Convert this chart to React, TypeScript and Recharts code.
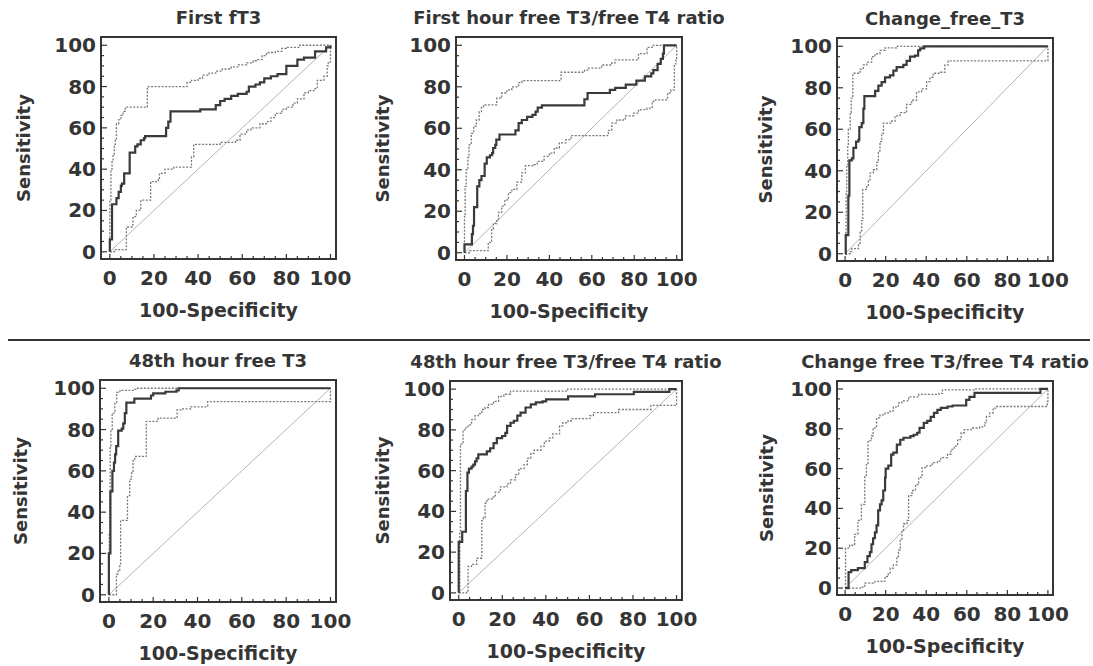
import React from 'react'
import { LineChart, Line, XAxis, YAxis } from 'recharts'

// ROC curves: [100-specificity, sensitivity]
const diagonal = [[0, 0], [100, 100]]

const roc1 = [[0, 0], [0, 6], [1, 6], [1, 23], [3, 23], [3, 26], [4, 29], [5, 32], [5.5, 33], [6.5, 38], [9, 38], [9, 48], [11.5, 48], [11.5, 51], [12.5, 52], [14, 54], [15.5, 55], [16, 56], [25.5, 56], [25.5, 60], [26.5, 63], [27.5, 68], [40, 68], [41, 69], [47, 69], [48, 71], [50, 73], [52, 74], [55, 75.5], [58, 76.5], [62, 77.5], [63, 80], [66, 81], [68, 82], [70, 84], [73, 85], [76, 86], [80, 86], [80, 90], [84, 90], [85, 93], [88, 93], [88, 94], [92, 94], [93, 97], [98, 99], [100, 99], [100, 100]]
const upper1 = [[0, 0], [0, 25], [0.5, 40], [1, 44], [1.5, 47], [2, 52], [2.5, 54], [3, 62], [4, 64], [5, 66], [6, 68], [7, 70], [17, 70], [17, 80], [34, 80], [35, 82], [37, 83], [40, 84], [42, 85.5], [45, 86.5], [48, 87.5], [51, 88.5], [55, 89.5], [58, 90.5], [62, 91.5], [65, 92.5], [67, 93], [69, 95], [71, 96.5], [75, 97], [78, 98.5], [80, 99], [86, 100], [100, 100]]
const lower1 = [[0, 0], [2, 0], [2, 1], [7.5, 2], [7.5, 12], [10, 13], [10.5, 17], [12, 20], [14, 25], [18.5, 25], [18.5, 34], [22, 35], [22.5, 38], [25, 40], [29, 41], [37, 41], [37, 46], [38, 52], [50, 53], [57, 54], [59, 57], [62, 59], [64, 60], [68, 62], [71, 63], [73, 65], [75, 67], [78, 69], [80, 70], [83, 72], [85, 74], [88, 77], [90, 78], [93, 79], [94, 83], [97, 85], [98.5, 90], [99, 92], [100, 100]]

const roc2 = [[0, 0], [0, 4], [3, 4], [3.5, 9], [4, 13], [4.5, 22], [6, 32], [7, 35], [8, 37], [9, 37], [9.5, 43], [10.5, 46], [12, 47], [13, 48], [13.5, 50.5], [14.5, 52], [15, 54.5], [16.5, 57], [23, 57], [24, 59], [25.5, 62.5], [27, 64], [29.5, 65.5], [32, 66.5], [33.5, 68], [34.5, 70], [36.5, 71], [56, 71], [56.5, 74], [58, 77], [68, 77], [68.5, 78.5], [71, 79.5], [76, 81], [80, 81], [81, 83], [85, 85], [88, 86.5], [89, 88], [91, 91], [92.5, 93.5], [93.5, 96], [94, 100], [100, 100]]
const upper2 = [[0, 0], [0, 18], [0.3, 32], [0.8, 40], [1.6, 46], [2.1, 52], [3.2, 57.5], [4.3, 61], [5.6, 64], [6.9, 68], [8, 70.5], [9, 71.3], [13.6, 71.3], [15.2, 74.5], [17.5, 77], [20, 78.5], [22.3, 80], [25.5, 82], [27.1, 83], [44, 83], [45.5, 87], [56.6, 88], [58.2, 89], [64.6, 90.5], [69.4, 91.5], [71, 93], [79.7, 93], [82, 96], [86, 99], [88.5, 100], [100, 100]]
const lower2 = [[0, 0], [2.4, 1], [11, 1], [11.2, 5], [12.8, 11.5], [13.6, 14], [15.2, 15.5], [16, 19.5], [17.5, 22.5], [19, 25.5], [20.7, 29], [22.3, 30.5], [24.7, 34], [27, 38.5], [28.7, 42], [32.7, 42.5], [34.3, 44], [37.5, 46.5], [40, 48], [42.3, 50.5], [44.7, 53], [47.8, 54.5], [50.2, 56.5], [66, 56.5], [67.8, 59], [69.4, 62.5], [71.8, 64], [75.8, 66], [79.7, 67.3], [82, 69], [86, 69.7], [88.5, 73], [90, 73.7], [95, 73.7], [95.7, 77], [97.3, 78.5], [98.9, 91], [99.7, 93], [100, 100]]

const roc3 = [[0, 0], [0.3, 9], [1.6, 9], [1.6, 28], [2.1, 45], [3.3, 46], [4.1, 51], [5.4, 54], [6.6, 55], [7, 61], [8.2, 63], [9, 70], [9.5, 76], [13.1, 76], [14.8, 78.5], [16.4, 81], [18, 82.7], [19.7, 85], [22.1, 86], [23.8, 88.3], [25.4, 90], [28.7, 91], [30.3, 93], [32, 95], [34.4, 95.5], [36, 98], [37, 99], [39, 100], [100, 100]]
const upper3 = [[0, 0], [0.3, 10], [0.5, 29], [0.8, 42], [1.3, 52], [1.6, 60], [2.5, 68], [3, 75], [3.8, 87], [6.6, 87], [7.4, 89], [9, 91], [10.7, 92.4], [13.1, 95], [14.8, 96.4], [17.2, 98], [19.7, 99.2], [25.4, 100], [100, 100]]
const lower3 = [[0, 0], [2.5, 1], [3.3, 2.5], [5.7, 2.5], [6.6, 5], [7.4, 11], [8.2, 16], [8.7, 31], [10.7, 32.5], [11.5, 35], [12.3, 39], [13.9, 40.5], [15.6, 44], [16.4, 49.5], [17.2, 54], [18, 58], [18.9, 63], [23, 64], [24.6, 66.5], [27, 68], [30.3, 72], [32.8, 74], [35.2, 78], [37.7, 79.5], [40.2, 83], [41.8, 85], [43.4, 87], [46.7, 87.5], [49.2, 91], [50.8, 93], [100, 93], [100, 100]]

const roc4 = [[0, 0], [0, 20], [0.7, 21], [0.7, 50], [1.6, 50], [1.6, 60], [2.3, 64], [2.8, 68], [3.3, 72], [4.2, 79.5], [5.8, 80.5], [6.5, 83], [7.2, 88], [7.9, 93], [10.8, 93], [11.5, 95], [15.5, 95], [19, 96.5], [20, 97.5], [25.5, 98.3], [30.5, 99], [31.5, 100], [100, 100]]
const upper4 = [[0, 0], [0.2, 30], [0.4, 50], [0.6, 72], [0.9, 80], [1.5, 88], [2.7, 93], [3.5, 98], [5, 99], [11, 99.5], [12.5, 100], [100, 100]]
const lower4 = [[0, 0], [3.4, 1], [3.4, 10], [4.2, 12], [4.9, 14], [5.3, 36], [8, 36], [8.4, 48], [9.4, 56], [10.2, 59], [10.9, 65], [11.7, 67], [16.2, 67], [16.9, 84], [21.4, 84], [22.2, 85.5], [29.6, 85.5], [30.8, 89.5], [32.6, 90], [37, 91], [43, 91], [44.6, 93.5], [100, 93.5], [100, 100]]

const roc5 = [[0, 0], [0, 25], [1.2, 25], [1.6, 30], [3.1, 30], [3.3, 50], [4, 59], [4.7, 61], [5.9, 62], [6.7, 63], [7.5, 64.5], [8.2, 66], [9, 68], [11.8, 68], [12.9, 69.5], [14.4, 71], [16, 73.5], [17.5, 76], [19.9, 77], [21.4, 78.5], [22.2, 82], [23.8, 83.5], [25.3, 84.5], [26.9, 87], [28.4, 88.5], [30.7, 91], [33.1, 92.5], [35.4, 93.5], [38.5, 94], [40.1, 95], [50.2, 96.5], [62.6, 97.5], [80.4, 98.7], [96, 98.7], [96.7, 100], [100, 100]]
const upper5 = [[0, 0], [0.5, 30], [0.8, 73], [2, 80], [2.8, 81], [4.3, 82.5], [5.9, 85], [7.5, 87], [9, 88], [10.6, 90], [12.1, 91], [13.7, 92.5], [16, 94], [18.3, 96.5], [20.7, 97.5], [23.8, 99], [50, 100], [100, 100]]
const lower5 = [[0, 0], [3.6, 1], [4.3, 13], [5.9, 14], [8.2, 17], [10.4, 17], [10.6, 35.5], [11.3, 37], [12.1, 44], [12.9, 46], [15.2, 47], [16.8, 49.5], [19.1, 52], [22.2, 53.5], [23.8, 55.5], [26.1, 58], [27.6, 61], [30, 63], [31.5, 66], [33.1, 68.5], [34.6, 70], [37.7, 72], [39.3, 74.5], [41.6, 76], [43.2, 78], [46.3, 82], [47.8, 83.5], [50.2, 84.5], [51.7, 85.5], [60.2, 87], [61.8, 88.5], [73.4, 90], [88.2, 92], [99.5, 92], [100, 100]]

const roc6 = [[0, 0], [1.5, 0], [1.7, 8], [3, 9], [6.3, 10], [8.8, 10], [9.7, 13], [11, 16], [12.2, 18], [13, 22], [13.8, 25], [14.7, 28], [15.5, 31.5], [16.3, 39], [17.2, 42], [18, 44], [18.8, 49], [19.7, 55.5], [20, 60], [21.3, 61.5], [22.7, 67], [23.8, 68], [25.5, 72], [27.2, 74.5], [28.8, 75.5], [32.2, 76.3], [33.8, 77], [35.5, 78], [36.7, 80.5], [38.8, 83], [40.5, 84], [42.2, 86], [43.8, 88], [45.5, 89.5], [47.2, 90.5], [50.5, 91.2], [53, 91.7], [59, 91.7], [59.7, 94.5], [61.3, 96], [63.8, 98], [95.5, 98], [96.3, 100], [100, 100]]
const upper6 = [[0, 0], [0.2, 20], [2.2, 21.5], [4.7, 27], [6.3, 34], [8, 42], [9.7, 56], [10.5, 62], [11.3, 74], [13, 76.5], [13.8, 80.5], [15.5, 85.5], [17.2, 87], [19.7, 88], [22.2, 89], [23.8, 91], [26.3, 93], [28, 94], [31.3, 96], [36.3, 97.3], [46.3, 97.8], [48, 99.5], [63.8, 99.5], [64, 100], [100, 100]]
const lower6 = [[0, 0], [8, 0.5], [8.8, 1], [9.7, 2.5], [14.7, 3.3], [18.8, 3.5], [19.7, 5.8], [21.3, 7.5], [22.2, 10], [23.8, 11.6], [25.5, 15.8], [26.3, 19], [27.2, 24], [28, 29], [28.8, 32.3], [30.5, 34], [31.3, 46.4], [33, 49], [34.7, 52], [36.3, 55.6], [38, 60.5], [39.7, 61.4], [43, 63], [45.5, 63.8], [47.2, 65.5], [50.5, 67.2], [52.2, 69.7], [53.8, 71.3], [55.5, 74.6], [57.2, 78], [58.8, 79.6], [62.2, 80.4], [66.3, 81], [68.8, 83], [69.7, 86.2], [71.3, 88], [73, 90.4], [74.7, 91.2], [98.8, 91.2], [99.7, 93.7], [100, 100]]

const TICKS = [0, 5, 10, 15, 20, 25, 30, 35, 40, 45, 50, 55, 60, 65, 70, 75, 80, 85, 90, 95, 100]
const X_DOMAIN: [number, number] = [-4, 102.5]
const Y_DOMAIN: [number, number] = [-3.5, 104]

const INK = '#353535'
const FONT = "'DejaVu Sans', Verdana, sans-serif"

// frame = [left, top, width, height] of the plot box on the page, ylab = distance of "Sensitivity" from the box
const PANELS = [
  { title: 'First fT3', roc: roc1, upper: upper1, lower: lower1, frame: [101, 37, 235, 222], ylab: 78 },
  { title: 'First hour free T3/free T4 ratio', roc: roc2, upper: upper2, lower: lower2, frame: [456, 37, 226, 223], ylab: 74 },
  { title: 'Change_free_T3', roc: roc3, upper: upper3, lower: lower3, frame: [837, 38, 216, 223], ylab: 72 },
  { title: '48th hour free T3', roc: roc4, upper: upper4, lower: lower4, frame: [100, 380, 236, 222], ylab: 80 },
  { title: '48th hour free T3/free T4 ratio', roc: roc5, upper: upper5, lower: lower5, frame: [450, 381, 232, 219], ylab: 68 },
  { title: 'Change free T3/free T4 ratio', roc: roc6, upper: upper6, lower: lower6, frame: [837, 381, 216, 214], ylab: 71 },
]

const LW = 100
const TH = 45
const RW = 50
const BH = 70

const toPts = (a: number[][]) => a.map(([x, y]) => ({ x, y }))

const frameLine = { stroke: INK, strokeWidth: 2, strokeLinecap: 'square' as const }

function RocPanel({ p }: { p: (typeof PANELS)[number] }) {
  const [fx, fy, fw, fh] = p.frame
  const bottom = TH + fh

  const yTick = (props: any) => {
    const v = props.payload.value
    const major = v % 20 === 0
    return (
      <g>
        <line x1={LW} y1={props.y} x2={LW + (major ? 6 : 3)} y2={props.y} stroke={INK} strokeWidth={1.2} />
        {major && (
          <text x={LW - 5} y={props.y + 7} textAnchor="end" fontFamily={FONT} fontWeight="bold" fontSize={20} fill={INK}>
            {v}
          </text>
        )}
      </g>
    )
  }

  const xTick = (props: any) => {
    const v = props.payload.value
    const major = v % 20 === 0
    return (
      <g>
        <line x1={props.x} y1={bottom} x2={props.x} y2={bottom - (major ? 5 : 3)} stroke={INK} strokeWidth={1.2} />
        {major && (
          <text x={props.x} y={bottom + 26} textAnchor="middle" fontFamily={FONT} fontWeight="bold" fontSize={20} fill={INK}>
            {v}
          </text>
        )}
      </g>
    )
  }

  return (
    <div style={{ position: 'absolute', left: fx - LW, top: fy - TH }}>
      <LineChart width={LW + fw + RW} height={TH + fh + BH} margin={{ top: 0, right: 0, bottom: 0, left: 0 }}>
        <XAxis
          xAxisId="b"
          type="number"
          dataKey="x"
          domain={X_DOMAIN}
          ticks={TICKS}
          interval={0}
          height={BH}
          tickSize={0}
          tickMargin={0}
          tickLine={false}
          axisLine={frameLine}
          tick={xTick}
          label={{
            content: () => (
              <text x={LW + fw / 2} y={bottom + 58} textAnchor="middle" fontFamily={FONT} fontWeight="bold" fontSize={19} fill={INK}>
                100-Specificity
              </text>
            ),
          }}
        />
        <XAxis
          xAxisId="t"
          orientation="top"
          type="number"
          dataKey="x"
          domain={X_DOMAIN}
          height={TH}
          tick={false}
          tickLine={false}
          axisLine={frameLine}
          label={{
            content: () => (
              <text x={LW + fw / 2} y={TH - 13} textAnchor="middle" fontFamily={FONT} fontWeight="bold" fontSize={18} fill={INK}>
                {p.title}
              </text>
            ),
          }}
        />
        <YAxis
          yAxisId="l"
          type="number"
          dataKey="y"
          domain={Y_DOMAIN}
          ticks={TICKS}
          interval={0}
          width={LW}
          tickSize={0}
          tickMargin={0}
          tickLine={false}
          axisLine={frameLine}
          tick={yTick}
          label={{
            content: () => {
              const cx = LW - p.ylab
              const cy = TH + fh / 2
              return (
                <text
                  x={cx}
                  y={cy}
                  transform={`rotate(-90 ${cx} ${cy})`}
                  dy={7}
                  textAnchor="middle"
                  fontFamily={FONT}
                  fontWeight="bold"
                  fontSize={18}
                  fill={INK}
                >
                  Sensitivity
                </text>
              )
            },
          }}
        />
        <YAxis
          yAxisId="r"
          orientation="right"
          type="number"
          dataKey="y"
          domain={Y_DOMAIN}
          width={RW}
          tick={false}
          tickLine={false}
          axisLine={frameLine}
        />
        <Line
          xAxisId="b"
          yAxisId="l"
          data={toPts(diagonal)}
          dataKey="y"
          type="linear"
          stroke="#b4b4b4"
          strokeWidth={1}
          dot={false}
          activeDot={false}
          isAnimationActive={false}
        />
        <Line
          xAxisId="b"
          yAxisId="l"
          data={toPts(p.upper)}
          dataKey="y"
          type="stepAfter"
          stroke="#7a7a7a"
          strokeWidth={1.3}
          strokeDasharray="2 1.5"
          dot={false}
          activeDot={false}
          isAnimationActive={false}
        />
        <Line
          xAxisId="b"
          yAxisId="l"
          data={toPts(p.lower)}
          dataKey="y"
          type="stepAfter"
          stroke="#7a7a7a"
          strokeWidth={1.3}
          strokeDasharray="2 1.5"
          dot={false}
          activeDot={false}
          isAnimationActive={false}
        />
        <Line
          xAxisId="b"
          yAxisId="l"
          data={toPts(p.roc)}
          dataKey="y"
          type="stepAfter"
          stroke="#3a3a3a"
          strokeWidth={2.2}
          dot={false}
          activeDot={false}
          isAnimationActive={false}
        />
      </LineChart>
    </div>
  )
}

export default function App() {
  return (
    <div style={{ position: 'absolute', left: 0, top: 0, width: 1093, height: 666, background: '#fff', overflow: 'hidden' }}>
      {PANELS.map((p) => (
        <RocPanel key={p.title} p={p} />
      ))}
      <div style={{ position: 'absolute', left: 8, top: 339, width: 1082, height: 2, background: INK }} />
    </div>
  )
}
